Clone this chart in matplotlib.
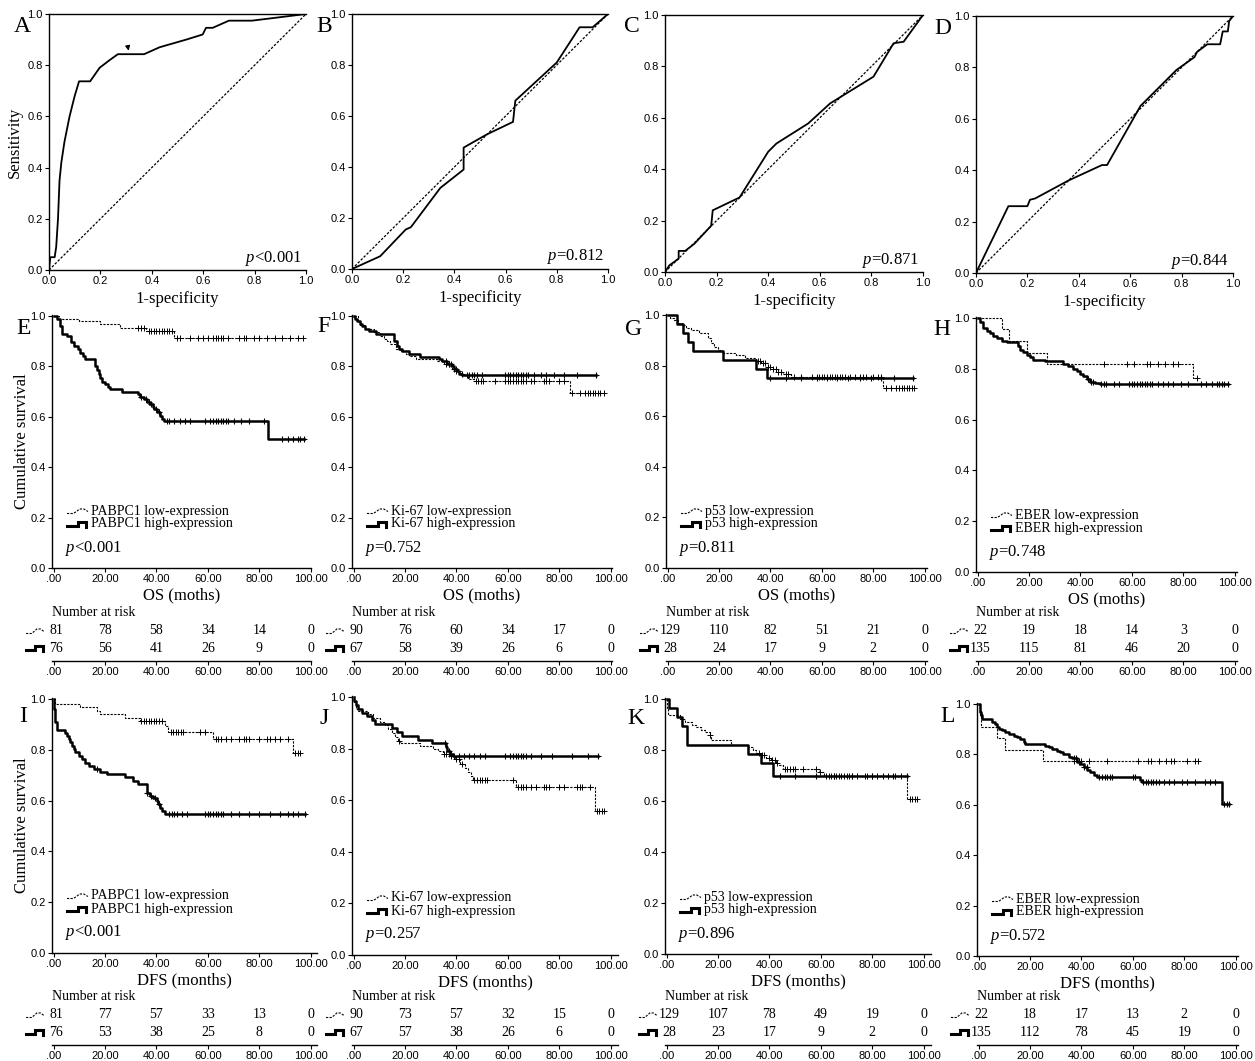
import numpy as np
import matplotlib
matplotlib.use("Agg")
import matplotlib.pyplot as plt
from matplotlib.lines import Line2D

# ---------------- data ----------------
# ROC curves: 1-specificity / sensitivity
roc_a_fpr = [0, 0.005, 0.022, 0.028, 0.035, 0.041, 0.048, 0.06, 0.08, 0.1, 0.117, 0.16, 0.197, 0.236, 0.268, 0.37, 0.43, 0.534, 0.598, 0.611, 0.637, 0.70, 0.79, 1.0]
roc_a_tpr = [0, 0.05, 0.05, 0.09, 0.2, 0.35, 0.42, 0.5, 0.6, 0.68, 0.737, 0.737, 0.79, 0.82, 0.843, 0.843, 0.87, 0.9, 0.92, 0.946, 0.946, 0.974, 0.974, 1.0]
roc_b_fpr = [0, 0.11, 0.21, 0.23, 0.345, 0.436, 0.436, 0.527, 0.629, 0.638, 0.8, 0.889, 0.94, 1.0]
roc_b_tpr = [0, 0.05, 0.155, 0.164, 0.318, 0.39, 0.476, 0.528, 0.577, 0.66, 0.81, 0.948, 0.948, 1.0]
roc_c_fpr = [0, 0.017, 0.053, 0.053, 0.078, 0.114, 0.179, 0.185, 0.289, 0.4, 0.432, 0.555, 0.64, 0.808, 0.886, 0.925, 1.0]
roc_c_tpr = [0, 0.026, 0.052, 0.082, 0.082, 0.11, 0.18, 0.24, 0.29, 0.468, 0.5, 0.578, 0.656, 0.76, 0.89, 0.896, 1.0]
roc_d_fpr = [0, 0.126, 0.2, 0.21, 0.23, 0.36, 0.49, 0.51, 0.64, 0.78, 0.85, 0.86, 0.9, 0.95, 0.96, 0.98, 0.985, 1.0]
roc_d_tpr = [0, 0.26, 0.26, 0.285, 0.29, 0.36, 0.42, 0.42, 0.65, 0.79, 0.84, 0.86, 0.89, 0.89, 0.94, 0.94, 0.98, 1.0]
roc_p = ["<0.001", "=0.812", "=0.871", "=0.844"]
roc_cutoff = (0.312, 0.846)

markers = ["PABPC1", "Ki-67", "p53", "EBER"]
os_p = ["<0.001", "=0.752", "=0.811", "=0.748"]
dfs_p = ["<0.001", "=0.257", "=0.896", "=0.572"]
km_xticks = [0, 20, 40, 60, 80, 100]
km_xticklabels = [".00", "20.00", "40.00", "60.00", "80.00", "100.00"]

# OS, PABPC1
e_lo_t = [0, 2, 10, 18, 26, 36, 47]
e_lo_s = [1.0, 0.987, 0.98, 0.967, 0.954, 0.94, 0.914]
e_lo_c = [33, 34, 35, 37, 38, 39, 40, 41, 42, 43, 44, 45, 46, 48, 49, 53, 56, 58, 60, 62, 63, 64, 65, 66, 68, 72, 74, 75, 78, 80, 83, 86, 89, 92, 95, 97]
e_hi_t = [0, 1.3, 2.3, 3.2, 5.2, 6.7, 7.8, 9.3, 10.4, 11.4, 12.3, 16.2, 16.8, 17.5, 18.1, 18.8, 20.1, 21.0, 22.0, 26.6, 33.0, 33.7, 35.0, 36.3, 37.6, 38.6, 39.2, 40.2, 41.2, 42.1, 43.0, 83.5]
e_hi_s = [1.0, 0.987, 0.96, 0.93, 0.92, 0.895, 0.88, 0.868, 0.855, 0.842, 0.83, 0.80, 0.785, 0.77, 0.755, 0.74, 0.73, 0.72, 0.71, 0.70, 0.69, 0.68, 0.67, 0.66, 0.65, 0.64, 0.63, 0.62, 0.605, 0.59, 0.582, 0.512]
e_hi_c = [34, 36, 37, 38, 40, 41, 44, 45, 47, 49, 51, 53, 59, 61, 62, 63, 64, 65, 66, 67, 68, 70, 73, 76, 82, 89, 91, 93, 95, 96, 97.5]
# OS, Ki-67
f_lo_t = [0, 1.6, 2.6, 4.6, 7.8, 10.4, 11.7, 13, 14.3, 16.3, 18.2, 20.2, 21.5, 24.1, 32.6, 35.2, 37.1, 38.4, 39.7, 41.7, 44.3, 46.9, 84]
f_lo_s = [1.0, 0.98, 0.965, 0.95, 0.935, 0.92, 0.91, 0.90, 0.89, 0.87, 0.86, 0.85, 0.84, 0.83, 0.82, 0.81, 0.80, 0.79, 0.78, 0.765, 0.752, 0.743, 0.693]
f_lo_c = [36, 37, 39, 40, 47.5, 48.5, 49.5, 50.5, 55, 59, 60, 61, 62, 63, 64, 65, 66, 67, 69, 70, 74, 75, 76, 80, 82, 85, 88, 90, 91, 92, 93, 94, 95, 96, 97.5]
f_hi_t = [0, 0.7, 1.3, 2.3, 3.3, 4.6, 5.9, 8.5, 15.6, 16.7, 17.6, 18.9, 21.5, 26, 33.2, 34.5, 36.5, 38.4, 39, 40.1, 41, 42.3]
f_hi_s = [1.0, 0.99, 0.98, 0.97, 0.96, 0.95, 0.94, 0.927, 0.90, 0.88, 0.87, 0.86, 0.85, 0.838, 0.83, 0.82, 0.81, 0.80, 0.79, 0.78, 0.77, 0.766]
f_hi_c = [36, 37, 38, 40, 42, 44, 45, 46, 47, 48, 50, 59, 60, 61, 62, 63, 64, 65, 66, 67, 68, 70, 73, 75, 78, 82, 87, 94.4]
# OS, p53
g_lo_t = [0, 1, 2.5, 4, 5.5, 7, 9, 12, 15.8, 17, 18, 19.5, 21, 26.5, 30, 34.5, 36.5, 39, 41, 43, 45, 48, 83.8]
g_lo_s = [1.0, 0.99, 0.98, 0.97, 0.96, 0.95, 0.94, 0.93, 0.91, 0.89, 0.875, 0.86, 0.85, 0.84, 0.83, 0.82, 0.81, 0.795, 0.785, 0.775, 0.765, 0.755, 0.711]
g_lo_c = [35, 36, 37, 38, 39, 40, 41, 42, 43, 44, 46, 47, 49, 52, 56, 58, 59, 60, 61, 62, 63, 64, 65, 66, 67, 68, 69, 71, 73, 75, 76, 77, 80, 82, 83, 85, 87, 89, 90, 91, 92, 93, 94, 95, 96]
g_hi_t = [0, 3.5, 6, 8, 10, 21.5, 34.5, 38.5]
g_hi_s = [1.0, 0.964, 0.929, 0.893, 0.857, 0.821, 0.786, 0.75]
g_hi_c = [40, 46, 52, 58, 62, 66, 70, 75, 79, 83, 88, 95.5]
# OS, EBER
h_lo_t = [0, 9.5, 12, 19, 27, 83.8]
h_lo_s = [1.0, 0.955, 0.909, 0.864, 0.818, 0.763]
h_lo_c = [49, 58, 61, 66, 67, 70, 73, 76, 78, 85.2]
h_hi_t = [0, 1, 2.2, 3.5, 4.8, 6.1, 7.4, 9.3, 11.3, 15.8, 16.5, 17.7, 19, 20.3, 21.6, 26.2, 33.3, 35.2, 37.2, 38.5, 39.8, 41.1, 42.4, 43.7, 45.6, 47.5]
h_hi_s = [1.0, 0.985, 0.96, 0.95, 0.94, 0.93, 0.92, 0.91, 0.905, 0.89, 0.875, 0.865, 0.855, 0.845, 0.835, 0.829, 0.82, 0.81, 0.80, 0.79, 0.78, 0.77, 0.76, 0.75, 0.745, 0.741]
h_hi_c = [43, 44, 45, 48, 49, 50, 53, 55, 59, 60, 61, 62, 63, 64, 65, 66, 67, 68, 70, 72, 74, 76, 79, 82, 87, 89, 91, 93, 94, 95, 96, 97.4]
# DFS, PABPC1
i_lo_t = [0, 0.6, 10.3, 16.8, 18.1, 27.8, 33.6, 43.3, 44.6, 62.1, 93.1]
i_lo_s = [1.0, 0.98, 0.967, 0.954, 0.94, 0.925, 0.915, 0.895, 0.869, 0.841, 0.788]
i_lo_c = [34, 35, 36, 37, 38, 39, 40, 41, 42, 45.5, 46.5, 47.5, 48.5, 49.5, 50.5, 57, 59, 63, 64, 65, 67, 69, 72, 74, 75, 76, 80, 83, 84, 86, 88, 91, 94, 95, 96]
i_hi_t = [0, 0.3, 0.5, 0.7, 1.3, 4.5, 5.2, 5.8, 6.5, 7.1, 7.8, 8.4, 9.7, 11, 12.3, 13.6, 15.5, 18.1, 20.7, 27.8, 31, 33, 36.2, 37.5, 38.8, 40.1, 40.7, 41.4, 42, 43.3]
i_hi_s = [1.0, 0.96, 0.93, 0.91, 0.878, 0.868, 0.855, 0.842, 0.829, 0.816, 0.803, 0.79, 0.776, 0.763, 0.75, 0.737, 0.724, 0.711, 0.704, 0.691, 0.678, 0.665, 0.63, 0.62, 0.61, 0.598, 0.585, 0.572, 0.56, 0.549]
i_hi_c = [17, 36.5, 38, 39.5, 41, 45, 46, 47, 48, 50, 52, 59, 60, 61, 62, 63, 64, 65, 66, 69, 72, 76, 80, 84, 88, 91, 93, 95, 97.7]
# DFS, Ki-67
j_lo_t = [0, 0.3, 0.8, 1.6, 5.7, 7.6, 10.2, 12.2, 13.5, 14.8, 16.1, 17.4, 18, 25.8, 31, 32.9, 34.8, 37.4, 39.4, 41.3, 43.3, 44.6, 45.6, 46.5, 63.3, 93.8]
j_lo_s = [1.0, 0.98, 0.955, 0.945, 0.935, 0.92, 0.905, 0.89, 0.875, 0.86, 0.845, 0.83, 0.822, 0.81, 0.80, 0.79, 0.78, 0.77, 0.76, 0.74, 0.725, 0.71, 0.695, 0.678, 0.651, 0.56]
j_lo_c = [17.5, 35, 36, 37, 38, 39, 40, 41, 42, 47, 48, 49, 50, 51, 52, 62, 64, 65, 66, 67, 69, 71, 74, 75, 76, 80, 82, 87, 88, 89, 92, 94.5, 95.5, 96.5, 97.5]
j_hi_t = [0, 0.3, 0.8, 1.8, 3.1, 5.1, 7, 8.3, 14.8, 16.7, 18.7, 25.1, 30.3, 36.1, 36.5, 37.4, 38.7]
j_hi_s = [1.0, 0.985, 0.97, 0.955, 0.94, 0.925, 0.91, 0.895, 0.88, 0.865, 0.85, 0.835, 0.82, 0.805, 0.79, 0.78, 0.77]
j_hi_c = [35.5, 37, 38, 41, 43, 45, 47, 49, 51, 59, 61, 62, 63, 64, 65, 66, 67, 69, 73, 77, 85, 91, 95]
# DFS, p53
k_lo_t = [0, 0.3, 0.6, 5.2, 7.1, 9.7, 11.6, 13.5, 14.8, 16.8, 17.4, 25.2, 31.6, 33.5, 34.8, 36.8, 38.7, 40.6, 42.6, 43.9, 45.2, 59.4, 61.3, 93.5]
k_lo_s = [1.0, 0.96, 0.937, 0.92, 0.91, 0.90, 0.89, 0.88, 0.87, 0.86, 0.84, 0.82, 0.81, 0.80, 0.79, 0.78, 0.77, 0.76, 0.75, 0.74, 0.726, 0.715, 0.70, 0.607]
k_lo_c = [17, 36, 37, 38, 40, 41, 42, 43, 46, 47, 48, 49, 50, 53, 58, 59.5, 62, 63, 64, 65, 66, 67, 68, 69, 70, 71, 72, 74, 77, 78, 80, 82, 84, 86, 89, 91, 94.5, 95.5, 96.5, 97.5]
k_hi_t = [0, 0.9, 3.9, 5.8, 8.1, 31.6, 36.8, 41.3]
k_hi_s = [1.0, 0.964, 0.929, 0.893, 0.821, 0.786, 0.75, 0.70]
k_hi_c = [44, 50, 58, 65, 72, 80, 88, 93.5]
# DFS, EBER
l_lo_t = [0, 0.5, 1, 7, 10.4, 25]
l_lo_s = [1.0, 0.955, 0.909, 0.864, 0.818, 0.773]
l_lo_c = [37, 39, 40, 43, 50, 62, 66, 67, 70, 73, 75, 76, 81, 84, 85.5]
l_hi_t = [0, 0.4, 0.8, 1.3, 5.2, 6.5, 7.1, 7.8, 9.1, 10.4, 11.7, 13.6, 14.9, 16.2, 17.5, 18.1, 25.9, 27.2, 28.5, 30.4, 31.7, 33, 35, 36.3, 38.2, 39.5, 40.8, 42.1, 43.4, 44.7, 46, 62.8, 63.5, 94.6]
l_hi_s = [1.0, 0.97, 0.955, 0.94, 0.93, 0.92, 0.91, 0.90, 0.895, 0.89, 0.88, 0.875, 0.87, 0.86, 0.85, 0.84, 0.835, 0.83, 0.82, 0.815, 0.81, 0.80, 0.79, 0.785, 0.77, 0.76, 0.75, 0.74, 0.73, 0.72, 0.709, 0.70, 0.69, 0.602]
l_hi_c = [37, 38, 39, 41, 42, 47, 48, 49, 50, 51, 52, 60, 61, 64, 65, 66, 67, 68, 69, 70, 72, 74, 76, 79, 81, 84, 88, 90, 92, 95.5, 96.5, 97.5]

# numbers at risk at 0, 20, 40, 60, 80, 100 months
os_risk_lo = [[81, 78, 58, 34, 14, 0], [90, 76, 60, 34, 17, 0], [129, 110, 82, 51, 21, 0], [22, 19, 18, 14, 3, 0]]
os_risk_hi = [[76, 56, 41, 26, 9, 0], [67, 58, 39, 26, 6, 0], [28, 24, 17, 9, 2, 0], [135, 115, 81, 46, 20, 0]]
dfs_risk_lo = [[81, 77, 57, 33, 13, 0], [90, 73, 57, 32, 15, 0], [129, 107, 78, 49, 19, 0], [22, 18, 17, 13, 2, 0]]
dfs_risk_hi = [[76, 53, 38, 25, 8, 0], [67, 57, 38, 26, 6, 0], [28, 23, 17, 9, 2, 0], [135, 112, 78, 45, 19, 0]]

# ---------------- layout (pixel boxes: left, top, right, bottom) ----------------
roc_boxes = [(49, 14, 306, 270), (352, 14, 608, 269), (665, 15, 923, 272), (976, 16, 1233, 273)]
os_boxes = [(52, 315, 311, 568), (352, 315, 612, 568), (666, 314, 927, 568), (976, 317, 1237, 572)]
dfs_boxes = [(52, 698, 317, 953), (352, 696, 618, 955), (665, 698, 931, 954), (977, 703, 1238, 956)]
roc_letter_xy = [("A", 22, 26), ("B", 324, 26), ("C", 632, 26), ("D", 943, 28)]
os_letter_xy = [("E", 24, 328), ("F", 324, 326), ("G", 634, 329), ("H", 942, 329)]
dfs_letter_xy = [("I", 23, 717), ("J", 324, 718), ("K", 636, 718), ("L", 948, 717)]
os_table_line = 661
dfs_table_line = 1045

plt.rcParams['font.family'] = 'Liberation Serif'
plt.rcParams['mathtext.fontset'] = 'custom'
plt.rcParams['mathtext.it'] = 'Liberation Serif:italic'
plt.rcParams['mathtext.rm'] = 'Liberation Serif'

W, H = 1255, 1061
fig = plt.figure(figsize=(W / 100, H / 100), dpi=100)
TICKFONT = dict(family='Liberation Sans', size=8)
PX_PER_MONTH = 2.57


def rect(l, t, r, b):
    return [l / W, 1 - b / H, (r - l) / W, (b - t) / H]


def fig_text(x, y, s, **kw):
    fig.text(x / W, 1 - y / H, s, **kw)


def icon(x0, yc, kind, w):
    # little SPSS-style legend glyphs
    if kind == 'lo':
        fx = [0, .3, .45, .6, .8, 1.0]
        fy = [2.5, 2.5, 0.5, -2, -2, 0.5]
        style = dict(color='black', lw=0.8, ls=(0, (2, 1.2)))
    else:
        fx = [0, .5, .5, .92, .92]
        fy = [1.5, 1.5, -2.5, -2.5, 3]
        style = dict(color='black', lw=2.2, solid_joinstyle='miter')
    xs = [(x0 + f * w) / W for f in fx]
    ys = [1 - (yc + d) / H for d in fy]
    fig.add_artist(Line2D(xs, ys, transform=fig.transFigure, **style))


def style_ticks(ax):
    ax.tick_params(direction='out', length=3, width=0.8, pad=1.5, colors='black')
    for lab in ax.get_xticklabels() + ax.get_yticklabels():
        lab.set_fontfamily(TICKFONT['family'])
        lab.set_fontsize(TICKFONT['size'])
    for sp in ax.spines.values():
        sp.set_linewidth(1.0)


def draw_roc(i, fpr, tpr):
    l, t, r, b = roc_boxes[i]
    ax = fig.add_axes(rect(l, t, r, b))
    ax.plot(fpr, tpr, color='black', lw=1.3)
    ax.plot([0, 1], [0, 1], color='black', lw=0.9, ls=(0, (2, 1.3)))
    ax.set_xlim(0, 1)
    ax.set_ylim(0, 1)
    ax.spines['right'].set_visible(False)
    ticks = np.linspace(0, 1, 6)
    ax.set_xticks(ticks, [f"{v:.1f}" for v in ticks])
    ax.set_yticks(ticks, [f"{v:.1f}" for v in ticks])
    style_ticks(ax)
    ax.text(1 - 4 / (r - l), 12 / (b - t), r"$p$" + roc_p[i], transform=ax.transAxes,
            ha='right', va='center', fontsize=12)
    ax.text(0.5, -29 / (b - t), "1-specificity", transform=ax.transAxes,
            ha='center', va='center', fontsize=12)
    letter, lx, ly = roc_letter_xy[i]
    fig_text(lx, ly, letter, ha='center', va='center', fontsize=17)
    return ax


def draw_km(box, curves, letter_xy, marker, ptxt, xlab, risk_lo, risk_hi, table_line, ylab):
    l, t, r, b = box
    ax = fig.add_axes(rect(l, t, r, b))
    xlim = (-0.65, -0.65 + (r - l) / PX_PER_MONTH)
    for tt, ss, cc, kind in curves:
        tt = np.asarray(tt)
        ss = np.asarray(ss)
        end = max(cc[-1], tt[-1])
        if kind == 'lo':
            st = dict(color='black', lw=0.8, ls=(0, (2, 1.2)))
            mk = dict(ms=4.5, mew=0.7)
        else:
            st = dict(color='black', lw=1.8)
            mk = dict(ms=4.5, mew=0.8)
        ax.step(np.append(tt, end), np.append(ss, ss[-1]), where='post', **st)
        idx = np.searchsorted(tt, cc, side='right') - 1
        ax.plot(cc, ss[idx], ls='none', marker='+', color='black', **mk)
    ax.set_xlim(*xlim)
    ax.set_ylim(0, 1.004)
    ax.spines['right'].set_visible(False)
    ax.spines['top'].set_visible(False)
    ax.set_xticks(km_xticks, km_xticklabels)
    yt = np.linspace(0, 1, 6)
    ax.set_yticks(yt, [f"{v:.1f}" for v in yt])
    style_ticks(ax)
    ax.text(0.5, -27 / (b - t), xlab, transform=ax.transAxes, ha='center', va='center', fontsize=12)
    if ylab:
        ax.text(-30 / (r - l), 0.5, ylab, transform=ax.transAxes, rotation=90,
                ha='center', va='center', fontsize=12)
    # legend
    icon(l + 15, b - 57, 'lo', 21)
    icon(l + 15, b - 44, 'hi', 21)
    fig_text(l + 39, b - 57, f"{marker} low-expression", ha='left', va='center', fontsize=10)
    fig_text(l + 39, b - 44, f"{marker} high-expression", ha='left', va='center', fontsize=10)
    fig_text(l + 13, b - 20, r"$p$" + ptxt, ha='left', va='center', fontsize=12)
    letter, lx, ly = letter_xy
    fig_text(lx, ly, letter, ha='center', va='center', fontsize=17)

    # number at risk table
    tb = fig.add_axes(rect(l, table_line - 60, r, table_line))
    tb.patch.set_visible(False)
    tb.set_xlim(*xlim)
    tb.set_ylim(0, 60)
    for s in ('left', 'right', 'top'):
        tb.spines[s].set_visible(False)
    tb.set_yticks([])
    tb.set_xticks(km_xticks, km_xticklabels)
    style_ticks(tb)
    tb.text(0, 49, "Number at risk", transform=tb.get_yaxis_transform(), ha='left', va='center', fontsize=10)
    for xv, n1, n2 in zip(km_xticks, risk_lo, risk_hi):
        xx = xv + 1 if xv == 0 else xv
        tb.text(xx, 30, str(n1), ha='center', va='center', fontsize=10)
        tb.text(xx, 13, str(n2), ha='center', va='center', fontsize=10)
    icon(l - 26, table_line - 30, 'lo', 18)
    icon(l - 26, table_line - 13, 'hi', 18)
    return ax


roc_data = [(roc_a_fpr, roc_a_tpr), (roc_b_fpr, roc_b_tpr), (roc_c_fpr, roc_c_tpr), (roc_d_fpr, roc_d_tpr)]
for i, (fp, tp) in enumerate(roc_data):
    ax = draw_roc(i, fp, tp)
    if i == 0:
        l, t, r, b = roc_boxes[0]
        ax.text(-34 / (r - l), 0.5, "Sensitivity", transform=ax.transAxes, rotation=90,
                ha='center', va='center', fontsize=12)
        # cut-off marker on curve A
        ax.annotate("", xy=roc_cutoff, xytext=(roc_cutoff[0] - 0.008, roc_cutoff[1] + 0.04),
                    arrowprops=dict(arrowstyle='-|>', color='black', lw=0.8, mutation_scale=7))

os_curves = [
    [(e_lo_t, e_lo_s, e_lo_c, 'lo'), (e_hi_t, e_hi_s, e_hi_c, 'hi')],
    [(f_lo_t, f_lo_s, f_lo_c, 'lo'), (f_hi_t, f_hi_s, f_hi_c, 'hi')],
    [(g_lo_t, g_lo_s, g_lo_c, 'lo'), (g_hi_t, g_hi_s, g_hi_c, 'hi')],
    [(h_lo_t, h_lo_s, h_lo_c, 'lo'), (h_hi_t, h_hi_s, h_hi_c, 'hi')],
]
dfs_curves = [
    [(i_lo_t, i_lo_s, i_lo_c, 'lo'), (i_hi_t, i_hi_s, i_hi_c, 'hi')],
    [(j_lo_t, j_lo_s, j_lo_c, 'lo'), (j_hi_t, j_hi_s, j_hi_c, 'hi')],
    [(k_lo_t, k_lo_s, k_lo_c, 'lo'), (k_hi_t, k_hi_s, k_hi_c, 'hi')],
    [(l_lo_t, l_lo_s, l_lo_c, 'lo'), (l_hi_t, l_hi_s, l_hi_c, 'hi')],
]

for i in range(4):
    draw_km(os_boxes[i], os_curves[i], os_letter_xy[i], markers[i], os_p[i], "OS (moths)",
            os_risk_lo[i], os_risk_hi[i], os_table_line, "Cumulative survival" if i == 0 else None)
    draw_km(dfs_boxes[i], dfs_curves[i], dfs_letter_xy[i], markers[i], dfs_p[i], "DFS (months)",
            dfs_risk_lo[i], dfs_risk_hi[i], dfs_table_line, "Cumulative survival" if i == 0 else None)

fig.savefig("out.png", dpi=100)
